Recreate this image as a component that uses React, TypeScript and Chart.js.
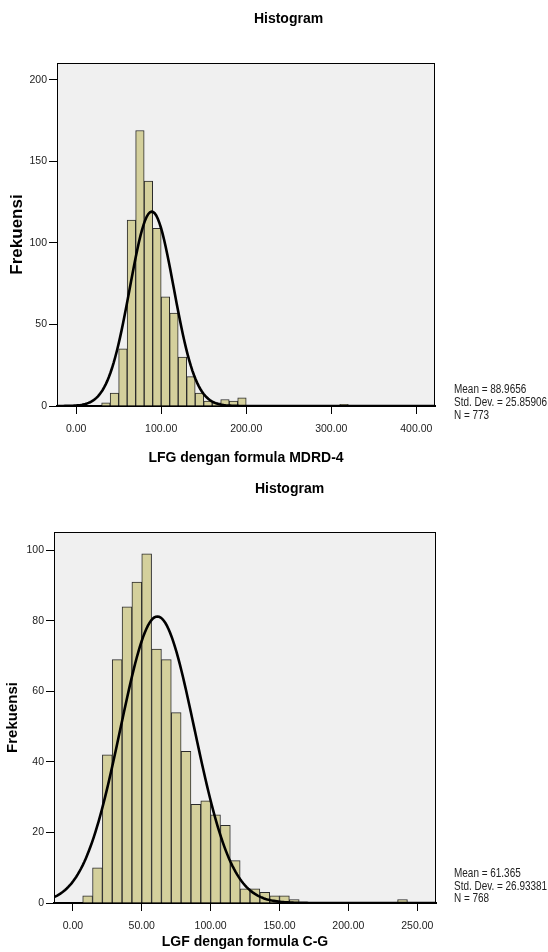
import React, { useEffect, useRef } from "react";
import { Chart, registerables } from "chart.js";

Chart.register(...registerables);

// ---------- Data: chart 1 (LFG dengan formula MDRD-4) ----------
const MDRD_BIN_WIDTH = 10;
const MDRD_BIN_START = [30, 40, 50, 60, 70, 80, 90, 100, 110, 120, 130, 140, 150, 160, 170, 180, 190, 310];
const MDRD_COUNTS = [2, 8, 35, 114, 169, 138, 109, 67, 57, 30, 18, 8, 3, 2, 4, 3, 5, 1];
const MDRD_X_TICKS = [0, 100, 200, 300, 400];
const MDRD_Y_TICKS = [0, 50, 100, 150, 200];
const MDRD_MEAN = 88.9656;
const MDRD_SD = 25.85906;
const MDRD_N = 773;

// ---------- Data: chart 2 (LGF dengan formula C-G) ----------
const CG_BIN_WIDTH = 50 / 7;
const CG_BIN_INDEX = [1, 2, 3, 4, 5, 6, 7, 8, 9, 10, 11, 12, 13, 14, 15, 16, 17, 18, 19, 20, 21, 22, 33];
const CG_COUNTS = [2, 10, 42, 69, 84, 91, 99, 72, 69, 54, 43, 28, 29, 25, 22, 12, 4, 4, 3, 2, 2, 1, 1];
const CG_X_TICKS = [0, 50, 100, 150, 200, 250];
const CG_Y_TICKS = [0, 20, 40, 60, 80, 100];
const CG_MEAN = 61.365;
const CG_SD = 26.93381;
const CG_N = 768;

const W = 548;
const H = 476;
const SANS = '"Liberation Sans", Arial, sans-serif';
const BAR_FILL = "#d4d09c";
const BAR_EDGE = "#2b2b2b";
const PLOT_BG = "#f0f0f0";

type Cfg = {
  centers: number[];
  counts: number[];
  binWidth: number;
  mean: number;
  sd: number;
  n: number;
  xTicks: number[];
  yTicks: number[];
  xMin: number;
  xMax: number;
  yMax: number;
  area: { left: number; top: number; right: number; bottom: number };
  xTitle: string;
  xTitlePad: number;
  yTitleSize: number;
  yTitlePad: number;
  titleX: number;
  titleBaseline: number;
  statsX: number;
  statsBaselines: number[];
  statsText: string[];
};

function normalCurve(cfg: Cfg) {
  const pts: { x: number; y: number }[] = [];
  const steps = 240;
  for (let i = 0; i <= steps; i++) {
    const x = cfg.xMin + ((cfg.xMax - cfg.xMin) * i) / steps;
    const z = (x - cfg.mean) / cfg.sd;
    const y = (cfg.n * cfg.binWidth * Math.exp(-0.5 * z * z)) / (cfg.sd * Math.sqrt(2 * Math.PI));
    pts.push({ x, y });
  }
  return pts;
}

function buildChart(canvas: HTMLCanvasElement, cfg: Cfg) {
  const decor = {
    id: "decor",
    beforeDraw(chart: any) {
      const { ctx, chartArea: a } = chart;
      ctx.save();
      ctx.fillStyle = PLOT_BG;
      ctx.fillRect(a.left, a.top, a.right - a.left, a.bottom - a.top);
      ctx.restore();
    },
    afterDraw(chart: any) {
      const { ctx, chartArea: a } = chart;
      ctx.save();
      ctx.strokeStyle = "#000";
      ctx.lineWidth = 1;
      ctx.strokeRect(a.left + 0.5, a.top + 0.5, a.right - a.left - 1, a.bottom - a.top);
      ctx.fillStyle = "#000";
      ctx.font = `bold 14px ${SANS}`;
      ctx.textAlign = "center";
      ctx.textBaseline = "alphabetic";
      ctx.fillText("Histogram", cfg.titleX, cfg.titleBaseline);
      ctx.font = `12px ${SANS}`;
      ctx.textAlign = "left";
      ctx.fillStyle = "#222";
      cfg.statsText.forEach((t, i) => {
        ctx.save();
        ctx.translate(cfg.statsX, cfg.statsBaselines[i]);
        ctx.scale(0.83, 1);
        ctx.fillText(t, 0, 0);
        ctx.restore();
      });
      ctx.restore();
    },
  };

  return new Chart(canvas, {
    type: "bar",
    data: {
      datasets: [
        {
          type: "line",
          data: normalCurve(cfg),
          borderColor: "#000",
          borderWidth: 2.6,
          pointRadius: 0,
          tension: 0,
          fill: false,
          order: 0,
        } as any,
        {
          type: "bar",
          data: cfg.centers.map((x, i) => ({ x, y: cfg.counts[i] })),
          backgroundColor: BAR_FILL,
          borderColor: BAR_EDGE,
          borderWidth: 1,
          barPercentage: 1,
          categoryPercentage: 1,
          grouped: false,
          order: 1,
        } as any,
      ],
    },
    options: {
      animation: false,
      responsive: false,
      events: [],
      layout: {
        padding: { left: 0, top: cfg.area.top, right: W - cfg.area.right, bottom: 0 },
      },
      plugins: {
        legend: { display: false },
        tooltip: { enabled: false },
        title: { display: false },
      },
      scales: {
        x: {
          type: "linear",
          min: cfg.xMin,
          max: cfg.xMax,
          offset: false,
          afterBuildTicks: (s: any) => {
            s.ticks = cfg.xTicks.map((v) => ({ value: v }));
          },
          afterFit: (s: any) => {
            s.height = H - cfg.area.bottom;
          },
          ticks: {
            autoSkip: false,
            maxRotation: 0,
            padding: 9,
            color: "#222",
            font: { family: SANS, size: 10.5 },
            callback: (v: any) => Number(v).toFixed(2),
          },
          grid: {
            display: true,
            drawOnChartArea: false,
            drawTicks: true,
            tickLength: 8,
            color: "#000",
            lineWidth: 1,
            offset: false,
          },
          border: { display: true, color: "#000", width: 2 },
          title: {
            display: true,
            text: cfg.xTitle,
            color: "#000",
            font: { family: SANS, size: 14, weight: "bold" },
            padding: { top: 0, bottom: cfg.xTitlePad },
          },
        },
        y: {
          type: "linear",
          min: 0,
          max: cfg.yMax,
          afterBuildTicks: (s: any) => {
            s.ticks = cfg.yTicks.map((v) => ({ value: v }));
          },
          afterFit: (s: any) => {
            s.width = cfg.area.left;
          },
          ticks: {
            padding: 2,
            color: "#222",
            font: { family: SANS, size: 10.5 },
            callback: (v: any) => String(v),
          },
          grid: {
            display: true,
            drawOnChartArea: false,
            drawTicks: true,
            tickLength: 8,
            color: "#000",
            lineWidth: 1,
          },
          border: { display: true, color: "#000", width: 1 },
          title: {
            display: true,
            text: "Frekuensi",
            color: "#000",
            font: { family: SANS, size: cfg.yTitleSize, weight: "bold" },
            padding: { top: cfg.yTitlePad, bottom: 0 },
          },
        },
      },
    } as any,
    plugins: [decor],
  });
}

const CFG1: Cfg = {
  centers: MDRD_BIN_START.map((s) => s + MDRD_BIN_WIDTH / 2),
  counts: MDRD_COUNTS,
  binWidth: MDRD_BIN_WIDTH,
  mean: MDRD_MEAN,
  sd: MDRD_SD,
  n: MDRD_N,
  xTicks: MDRD_X_TICKS,
  yTicks: MDRD_Y_TICKS,
  xMin: -22.5,
  xMax: 422,
  yMax: 210.4,
  area: { left: 57, top: 63, right: 435, bottom: 406 },
  xTitle: "LFG dengan formula MDRD-4",
  xTitlePad: 9,
  yTitleSize: 17,
  yTitlePad: 7,
  titleX: 288.5,
  titleBaseline: 22.5,
  statsX: 454,
  statsBaselines: [393, 406, 419],
  statsText: [`Mean = ${MDRD_MEAN}`, `Std. Dev. = ${MDRD_SD}`, `N = ${MDRD_N}`],
};

const CFG2: Cfg = {
  centers: CG_BIN_INDEX.map((k) => (k + 0.5) * CG_BIN_WIDTH),
  counts: CG_COUNTS,
  binWidth: CG_BIN_WIDTH,
  mean: CG_MEAN,
  sd: CG_SD,
  n: CG_N,
  xTicks: CG_X_TICKS,
  yTicks: CG_Y_TICKS,
  xMin: -13.7,
  xMax: 263.6,
  yMax: 105.2,
  area: { left: 54, top: 56, right: 436, bottom: 427 },
  xTitle: "LGF dengan formula C-G",
  xTitlePad: 1,
  yTitleSize: 15,
  yTitlePad: 4,
  titleX: 289.5,
  titleBaseline: 16.7,
  statsX: 454,
  statsBaselines: [401, 413.5, 426],
  statsText: [`Mean = ${CG_MEAN}`, `Std. Dev. = ${CG_SD}`, `N = ${CG_N}`],
};

function Hist({ cfg, top }: { cfg: Cfg; top: number }) {
  const ref = useRef<HTMLCanvasElement | null>(null);
  useEffect(() => {
    if (!ref.current) return;
    const chart = buildChart(ref.current, cfg);
    return () => chart.destroy();
  }, [cfg]);
  return (
    <canvas
      ref={ref}
      width={W}
      height={H}
      style={{ position: "absolute", left: 0, top, width: W, height: H, display: "block" }}
    />
  );
}

export default function App() {
  return (
    <div style={{ position: "absolute", left: 0, top: 0, width: W, height: 952, overflow: "hidden", background: "#fff" }}>
      <Hist cfg={CFG1} top={0} />
      <Hist cfg={CFG2} top={476} />
    </div>
  );
}
